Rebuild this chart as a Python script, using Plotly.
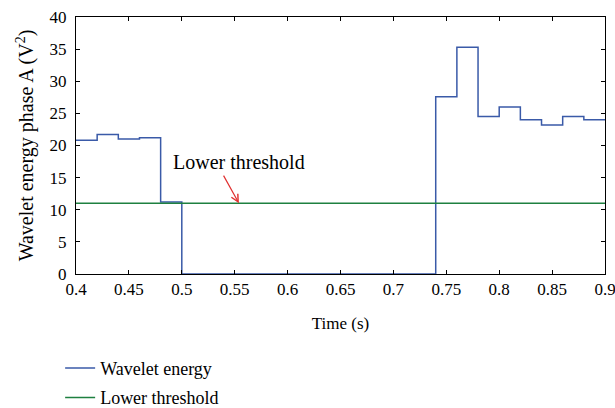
import plotly.graph_objects as go

# Step start times (s) and wavelet energy values (V^2)
time_s = [0.40, 0.42, 0.44, 0.46, 0.48, 0.50, 0.52, 0.54, 0.56, 0.58, 0.60,
          0.62, 0.64, 0.66, 0.68, 0.70, 0.72, 0.74, 0.76, 0.78, 0.80, 0.82,
          0.84, 0.86, 0.88, 0.90]
energy = [20.8, 21.7, 21.0, 21.2, 11.2, 0, 0, 0, 0, 0, 0,
          0, 0, 0, 0, 0, 0, 27.6, 35.3, 24.5, 26.0, 24.0,
          23.2, 24.5, 24.0, 24.0]
threshold_x = [0.40, 0.90]
threshold_y = [11.0, 11.0]

x_ticks = [0.4, 0.45, 0.5, 0.55, 0.6, 0.65, 0.7, 0.75, 0.8, 0.85, 0.9]
x_tick_labels = ["0.4", "0.45", "0.5", "0.55", "0.6", "0.65", "0.7", "0.75", "0.8", "0.85", "0.9"]
y_ticks = [0, 5, 10, 15, 20, 25, 30, 35, 40]

FONT = "'Liberation Serif', 'Times New Roman', 'DejaVu Serif', serif"
FS = 17
BLUE = "#3a5aa8"
GREEN = "#1e8040"

fig = go.Figure()
fig.add_trace(go.Scatter(x=time_s, y=energy, mode="lines", line_shape="hv",
                         line=dict(color=BLUE, width=1.5), name="Wavelet energy",
                         legendgroup="a"))
fig.add_trace(go.Scatter(x=threshold_x, y=threshold_y, mode="lines",
                         line=dict(color=GREEN, width=1.5), name="Lower threshold",
                         legendgroup="b"))

fig.add_annotation(x=0.554, y=11.0, ax=0.5387, ay=15.55, xref="x", yref="y",
                   axref="x", ayref="y", text="", showarrow=True,
                   arrowcolor="#e03030", arrowwidth=1.2, arrowhead=5, arrowsize=1.2)
fig.add_annotation(x=0.554, y=17.4, xref="x", yref="y", text="Lower threshold",
                   showarrow=False, font=dict(family=FONT, size=20, color="black"))

axis_common = dict(showgrid=False, zeroline=False, showline=True, linecolor="black",
                   linewidth=1, mirror="ticks", ticks="inside", ticklen=4,
                   tickcolor="black", ticklabeloverflow="allow",
                   tickfont=dict(family=FONT, size=FS, color="black"))

fig.update_xaxes(range=[0.4, 0.9], tickvals=x_ticks, ticktext=x_tick_labels,
                 title=dict(text="Time (s)", font=dict(family=FONT, size=FS, color="black"),
                            standoff=18),
                 **axis_common)
fig.update_yaxes(range=[0, 40], tickvals=y_ticks, ticklabelstandoff=5,
                 title=dict(text="Wavelet energy phase A (V<sup>2</sup>)",
                            font=dict(family=FONT, size=20, color="black"), standoff=10),
                 **axis_common)

fig.update_layout(
    width=615, height=408,
    margin=dict(l=76, r=10, t=17, b=134, autoexpand=False),
    paper_bgcolor="white", plot_bgcolor="white",
    font=dict(family=FONT, size=FS, color="black"),
    showlegend=True,
    legend=dict(x=-0.03, y=-0.295, xanchor="left", yanchor="top",
                bgcolor="rgba(0,0,0,0)",
                font=dict(family=FONT, size=18, color="black"),
                tracegroupgap=3, itemwidth=30),
)

fig.write_html("out.html")
